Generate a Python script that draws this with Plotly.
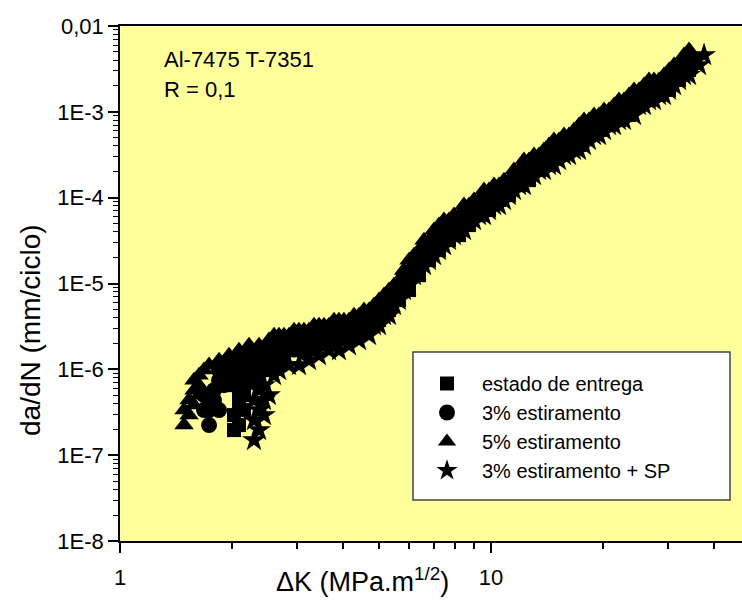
import plotly.graph_objects as go

# ---------------- data ----------------
# dK positions of the additional reads taken through the dense part of the band
dk_band_mid = [2.601, 2.767, 2.945, 3.133, 3.334, 3.547, 3.775, 4.016, 4.273, 4.547,
               4.839, 5.149, 5.478, 5.827, 6.201, 6.598, 7.021, 7.470, 7.948, 8.456,
               8.998, 9.575, 10.19, 10.84, 11.53, 12.27, 13.06, 13.89, 14.78, 15.73,
               16.74, 17.81, 18.95, 20.17, 21.46, 22.83, 24.29, 25.85, 27.50, 29.26,
               31.14, 33.13]

# estado de entrega (squares)
dk_entrega = [2.029, 2.029, 2.093, 2.159, 2.159, 2.227, 2.297, 2.370, 2.521, 2.683,
              2.855, 3.037, 3.232, 3.439, 3.659, 3.893, 4.143, 4.408, 4.691, 4.991,
              5.311, 5.649, 6.012, 6.397, 6.806, 7.241, 7.705, 8.197, 8.723, 9.284,
              9.876, 10.51, 11.18, 11.90, 12.66, 13.47, 14.33, 15.25, 16.23, 17.27,
              18.37, 19.55, 20.80, 22.13, 23.55, 25.06, 26.66, 28.37, 30.19, 32.12,
              34.18, 35.26,
              2.297, 2.444, 2.601, 2.767,
              2.159, 2.093, 2.029, 2.093, 2.370, 2.093] + dk_band_mid
dadn_entrega = [1.96e-7, 2.93e-7, 3.83e-7, 5.00e-7, 6.54e-7, 8.56e-7, 1.12e-6, 1.28e-6, 1.46e-6, 1.46e-6,
                1.67e-6, 1.67e-6, 1.91e-6, 2.19e-6, 2.19e-6, 2.50e-6, 2.50e-6, 2.86e-6, 3.27e-6, 3.74e-6,
                4.90e-6, 6.41e-6, 8.38e-6, 1.25e-5, 1.87e-5, 2.45e-5, 3.20e-5, 3.66e-5, 4.79e-5, 6.27e-5,
                7.17e-5, 9.38e-5, 1.07e-4, 1.40e-4, 1.60e-4, 2.10e-4, 2.40e-4, 3.14e-4, 3.59e-4, 4.10e-4,
                5.36e-4, 6.13e-4, 7.01e-4, 8.02e-4, 9.17e-4, 1.20e-3, 1.37e-3, 1.57e-3, 1.80e-3, 2.35e-3,
                3.07e-3, 4.02e-3,
                8.56e-7, 9.79e-7, 1.12e-6, 1.28e-6,
                3.35e-7, 5.00e-7, 6.54e-7, 8.56e-7, 8.56e-7, 2.24e-7,
                1.67e-6, 1.67e-6, 1.91e-6, 1.91e-6, 2.19e-6, 2.19e-6, 2.50e-6, 2.86e-6, 2.86e-6, 3.27e-6,
                3.74e-6, 4.90e-6, 6.41e-6, 9.59e-6, 1.43e-5, 2.14e-5, 2.80e-5, 3.66e-5, 4.19e-5, 5.48e-5,
                6.27e-5, 8.20e-5, 9.38e-5, 1.07e-4, 1.40e-4, 1.83e-4, 2.10e-4, 2.74e-4, 3.14e-4, 3.59e-4,
                4.10e-4, 5.36e-4, 6.13e-4, 7.01e-4, 8.02e-4, 1.05e-3, 1.20e-3, 1.37e-3, 1.57e-3, 1.80e-3,
                2.35e-3, 3.07e-3]

# 3% estiramento (circles)
dk_3 = [1.738, 1.738, 1.792, 1.792, 1.849, 1.849, 1.967, 2.093, 2.227, 2.370,
        2.521, 2.683, 2.855, 3.037, 3.232, 3.439, 3.659, 3.893, 4.143, 4.408,
        4.691, 4.991, 5.311, 5.649, 6.012, 6.397, 6.806, 7.241, 7.705, 8.197,
        8.723, 9.284, 9.876, 10.51, 11.18, 11.90, 12.66, 13.47, 14.33, 15.25,
        16.23, 17.27, 18.37, 19.55, 20.80, 22.13, 23.55, 25.06, 26.66, 28.37,
        30.19, 32.12, 34.18,
        1.907, 2.029, 2.159, 2.297, 2.444,
        1.684, 1.684, 1.849, 1.907, 1.967, 2.159, 2.297] + dk_band_mid
dadn_3 = [2.24e-7, 3.35e-7, 4.38e-7, 5.72e-7, 7.48e-7, 9.79e-7, 1.28e-6, 1.28e-6, 1.46e-6, 1.46e-6,
          1.67e-6, 1.67e-6, 1.91e-6, 1.91e-6, 2.19e-6, 2.19e-6, 2.50e-6, 2.50e-6, 2.86e-6, 3.27e-6,
          3.74e-6, 4.28e-6, 5.60e-6, 8.38e-6, 1.25e-5, 1.87e-5, 2.45e-5, 3.20e-5, 4.19e-5, 4.79e-5,
          6.27e-5, 7.17e-5, 9.38e-5, 1.07e-4, 1.23e-4, 1.60e-4, 2.10e-4, 2.40e-4, 3.14e-4, 3.59e-4,
          4.10e-4, 4.69e-4, 6.13e-4, 7.01e-4, 8.02e-4, 9.17e-4, 1.20e-3, 1.37e-3, 1.57e-3, 1.80e-3,
          2.05e-3, 2.69e-3, 3.51e-3,
          1.12e-6, 9.79e-7, 1.12e-6, 1.12e-6, 1.28e-6,
          3.35e-7, 5.00e-7, 3.35e-7, 6.54e-7, 8.56e-7, 8.56e-7, 7.48e-7,
          1.91e-6, 2.19e-6, 2.19e-6, 2.50e-6, 2.50e-6, 2.86e-6, 2.86e-6, 3.27e-6, 3.74e-6, 4.28e-6,
          4.90e-6, 6.41e-6, 8.38e-6, 1.25e-5, 1.87e-5, 2.45e-5, 3.20e-5, 4.19e-5, 5.48e-5, 6.27e-5,
          8.20e-5, 9.38e-5, 1.07e-4, 1.40e-4, 1.60e-4, 2.10e-4, 2.74e-4, 3.14e-4, 3.59e-4, 4.69e-4,
          5.36e-4, 6.13e-4, 8.02e-4, 9.17e-4, 1.05e-3, 1.20e-3, 1.37e-3, 1.57e-3, 2.05e-3, 2.35e-3,
          3.07e-3, 3.51e-3]

# 5% estiramento (triangles)
dk_5 = [1.488, 1.535, 1.535, 1.583, 1.583, 1.633, 1.684, 1.738, 1.849, 1.967,
        2.093, 2.227, 2.370, 2.521, 2.683, 2.855, 3.037, 3.232, 3.439, 3.659,
        3.893, 4.143, 4.408, 4.691, 4.991, 5.311, 5.649, 5.827, 6.012, 6.397,
        6.806, 7.241, 7.705, 8.197, 8.723, 9.284, 9.876, 10.51, 11.18, 11.90,
        12.66, 13.47, 14.33, 15.25, 16.23, 17.27, 18.37, 19.55, 20.80, 22.13,
        23.55, 25.06, 26.66, 28.37, 30.19, 32.12, 33.13, 34.18,
        1.633, 1.583, 1.488, 1.633] + dk_band_mid
dadn_5 = [2.24e-7, 2.93e-7, 4.38e-7, 5.72e-7, 7.48e-7, 8.56e-7, 9.79e-7, 1.12e-6, 1.28e-6, 1.46e-6,
          1.67e-6, 1.91e-6, 1.91e-6, 2.19e-6, 2.50e-6, 2.50e-6, 2.86e-6, 2.86e-6, 3.27e-6, 3.27e-6,
          3.74e-6, 3.74e-6, 4.28e-6, 4.90e-6, 6.41e-6, 8.38e-6, 1.10e-5, 1.43e-5, 1.87e-5, 2.45e-5,
          3.20e-5, 4.79e-5, 5.48e-5, 6.27e-5, 8.20e-5, 9.38e-5, 1.23e-4, 1.40e-4, 1.60e-4, 2.10e-4,
          2.74e-4, 3.14e-4, 4.10e-4, 4.69e-4, 5.36e-4, 7.01e-4, 8.02e-4, 9.17e-4, 1.05e-3, 1.37e-3,
          1.57e-3, 1.80e-3, 2.35e-3, 2.35e-3, 3.07e-3, 3.51e-3, 4.02e-3, 5.25e-3,
          5.00e-7, 3.83e-7, 3.35e-7, 6.54e-7,
          2.50e-6, 2.50e-6, 2.86e-6, 2.86e-6, 3.27e-6, 3.27e-6, 3.74e-6, 3.74e-6, 4.28e-6, 4.90e-6,
          5.60e-6, 7.33e-6, 9.59e-6, 1.43e-5, 2.14e-5, 3.20e-5, 4.19e-5, 5.48e-5, 6.27e-5, 8.20e-5,
          9.38e-5, 1.23e-4, 1.40e-4, 1.60e-4, 2.10e-4, 2.74e-4, 3.14e-4, 3.59e-4, 4.69e-4, 5.36e-4,
          6.13e-4, 8.02e-4, 9.17e-4, 1.05e-3, 1.20e-3, 1.37e-3, 1.80e-3, 2.05e-3, 2.35e-3, 2.69e-3,
          3.51e-3, 4.59e-3]

# 3% estiramento + SP (stars)
dk_sp = [2.297, 2.370, 2.297, 2.370, 2.444, 2.370, 2.444, 2.601, 2.683, 2.855,
         3.037, 3.232, 3.439, 3.659, 3.893, 4.143, 4.408, 4.691, 4.991, 5.311,
         5.649, 6.012, 6.397, 6.806, 7.241, 7.705, 8.197, 8.723, 9.284, 9.876,
         10.51, 11.18, 11.90, 12.66, 13.47, 14.33, 15.25, 16.23, 17.27, 18.37,
         19.55, 20.80, 22.13, 23.55, 25.06, 26.66, 28.37, 30.19, 32.12, 34.18,
         36.37, 37.52,
         2.521, 2.297, 2.444] + dk_band_mid
dadn_sp = [1.50e-7, 1.96e-7, 2.56e-7, 3.35e-7, 4.38e-7, 5.72e-7, 6.54e-7, 8.56e-7, 9.79e-7, 1.12e-6,
           1.12e-6, 1.28e-6, 1.46e-6, 1.67e-6, 1.67e-6, 1.91e-6, 2.19e-6, 2.50e-6, 3.27e-6, 4.28e-6,
           6.41e-6, 9.59e-6, 1.43e-5, 1.87e-5, 2.45e-5, 3.20e-5, 4.19e-5, 5.48e-5, 6.27e-5, 7.17e-5,
           8.20e-5, 1.07e-4, 1.40e-4, 1.83e-4, 2.10e-4, 2.40e-4, 2.74e-4, 3.14e-4, 3.59e-4, 4.69e-4,
           5.36e-4, 7.01e-4, 8.02e-4, 1.05e-3, 1.20e-3, 1.37e-3, 1.57e-3, 1.80e-3, 2.35e-3, 2.69e-3,
           3.51e-3, 4.59e-3,
           5.00e-7, 4.38e-7, 2.93e-7,
           1.46e-6, 1.46e-6, 1.67e-6, 1.67e-6, 1.67e-6, 1.91e-6, 2.19e-6, 2.19e-6, 2.50e-6, 2.86e-6,
           3.27e-6, 4.28e-6, 5.60e-6, 8.38e-6, 1.25e-5, 1.64e-5, 2.14e-5, 2.80e-5, 3.66e-5, 4.19e-5,
           5.48e-5, 6.27e-5, 8.20e-5, 9.38e-5, 1.23e-4, 1.40e-4, 1.83e-4, 2.10e-4, 2.40e-4, 3.14e-4,
           3.59e-4, 4.10e-4, 5.36e-4, 6.13e-4, 7.01e-4, 8.02e-4, 9.17e-4, 1.20e-3, 1.37e-3, 1.57e-3,
           2.05e-3, 2.69e-3]

series_names = ["estado de entrega", "3% estiramento", "5% estiramento", "3% estiramento + SP"]

x_tick_vals = [1, 10]
x_tick_text = ["1", "10"]
y_tick_vals = [1e-8, 1e-7, 1e-6, 1e-5, 1e-4, 1e-3, 1e-2]
y_tick_text = ["1E-8", "1E-7", "1E-6", "1E-5", "1E-4", "1E-3", "0,01"]

# ---------------- figure ----------------
FONT = "Liberation Sans, Arial, sans-serif"
W, H = 742, 601
ML, MR, MT, MB = 120, 0, 26, 60
PW, PH = W - ML - MR, H - MT - MB


def px_x(p):
    return (p - ML) / PW


def px_y(p):
    return (H - MB - p) / PH


fig = go.Figure()
specs = [
    (dk_entrega, dadn_entrega, "square", 14),
    (dk_3, dadn_3, "circle", 16),
    (dk_5, dadn_5, "triangle-up", 17),
    (dk_sp, dadn_sp, "star", 18),
]
for (xs, ys, sym, sz), name in zip(specs, series_names):
    fig.add_trace(go.Scatter(
        x=xs, y=ys, mode="markers", name=name,
        marker=dict(symbol=sym, size=sz, color="black", line=dict(width=0)),
    ))

x_minor = [2, 3, 4, 5, 6, 7, 8, 9, 20, 30, 40]
y_minor = [m * 10.0 ** e for e in range(-8, -2) for m in range(2, 10)]

fig.update_xaxes(
    type="log", range=[0, 1.6765],
    tickvals=x_tick_vals, ticktext=x_tick_text,
    ticks="outside", ticklen=10, tickwidth=1.5, tickcolor="black",
    ticklabelstandoff=6,
    minor=dict(tickvals=x_minor, ticks="outside", ticklen=6, tickwidth=1.5, tickcolor="black"),
    showline=True, linecolor="black", linewidth=1.5, mirror=True,
    showgrid=False, zeroline=False,
    tickfont=dict(family=FONT, size=22, color="black"),
)
fig.update_yaxes(
    type="log", range=[-8, -2],
    tickvals=y_tick_vals, ticktext=y_tick_text,
    ticks="outside", ticklen=10, tickwidth=1.5, tickcolor="black",
    minor=dict(tickvals=y_minor, ticks="outside", ticklen=5, tickwidth=1.2, tickcolor="black"),
    showline=True, linecolor="black", linewidth=1.5, mirror=False,
    showgrid=False, zeroline=False,
    tickfont=dict(family=FONT, size=22, color="black"),
)

fig.add_shape(type="rect", xref="paper", yref="paper",
              x0=px_x(413), x1=px_x(730), y0=px_y(500), y1=px_y(352),
              fillcolor="white", line=dict(color="#444444", width=1.5), layer="below")

fig.update_layout(
    width=W, height=H,
    margin=dict(l=ML, r=MR, t=MT, b=MB),
    paper_bgcolor="white", plot_bgcolor="#FFFF9C",
    font=dict(family=FONT, color="black"),
    showlegend=True,
    legend=dict(
        x=px_x(412), y=px_y(364), xanchor="left", yanchor="top",
        bgcolor="rgba(0,0,0,0)", borderwidth=0,
        font=dict(family=FONT, size=20, color="black"),
        itemwidth=60, traceorder="normal",
    ),
    annotations=[
        dict(text="Al-7475 T-7351", x=px_x(162), y=px_y(59), xref="paper", yref="paper",
             xanchor="left", yanchor="middle", showarrow=False,
             font=dict(family=FONT, size=22, color="black")),
        dict(text="R = 0,1", x=px_x(162), y=px_y(90), xref="paper", yref="paper",
             xanchor="left", yanchor="middle", showarrow=False,
             font=dict(family=FONT, size=22, color="black")),
        dict(text="\u0394K (MPa.m<sup>1/2</sup>)", x=px_x(362), y=px_y(580), xref="paper", yref="paper",
             xanchor="center", yanchor="middle", showarrow=False,
             font=dict(family=FONT, size=27, color="black")),
        dict(text="da/dN (mm/ciclo)", x=px_x(30), y=px_y(330), xref="paper", yref="paper",
             xanchor="center", yanchor="middle", showarrow=False, textangle=-90,
             font=dict(family=FONT, size=28, color="black")),
    ],
)

fig.write_html("out.html")
